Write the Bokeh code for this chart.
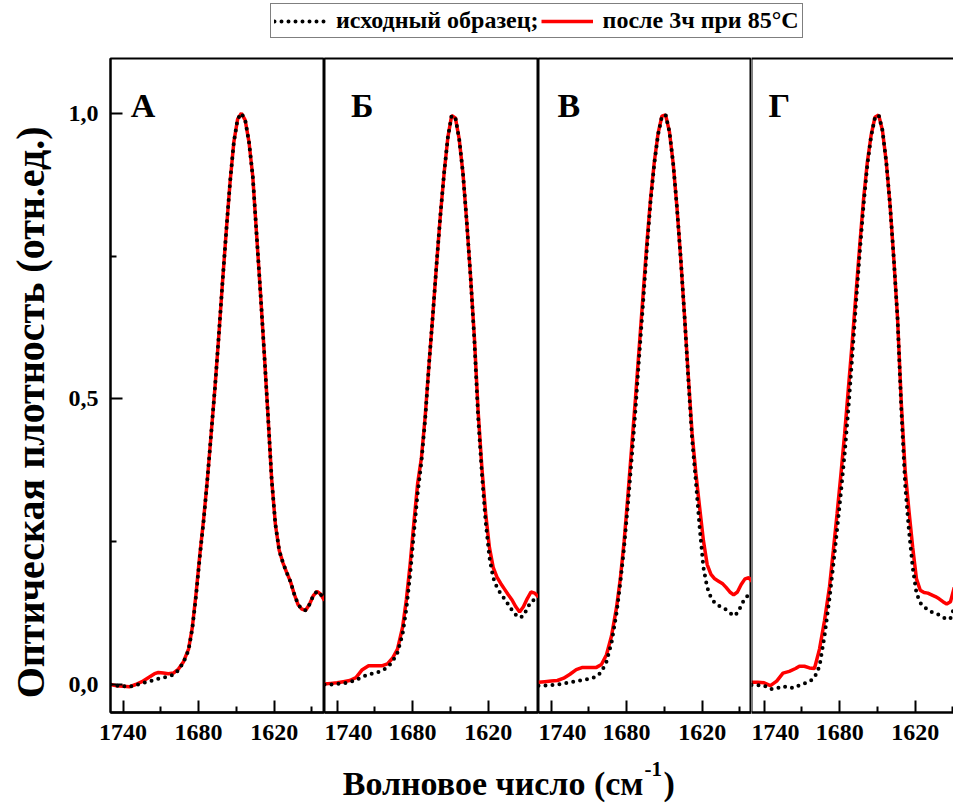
from bokeh.plotting import figure
from bokeh.models import (Range1d, FixedTicker, CustomJSTickFormatter, Label, Legend,
                          LegendItem, Span, LinearAxis)
from bokeh.layouts import row, column
from bokeh.embed import file_html
from bokeh.resources import INLINE

FONT = "Liberation Serif"

# ---------------- data (wavenumber, cm^-1) ----------------
wn = [1750, 1745, 1740, 1735, 1730, 1725, 1720, 1715, 1712, 1708, 1704, 1700, 1696, 1692,
      1688, 1685, 1682, 1679, 1676, 1673, 1670, 1667, 1664, 1661, 1658, 1655, 1652, 1649,
      1646, 1643, 1640, 1637, 1634, 1631, 1628, 1625, 1622, 1619, 1616, 1613, 1610, 1607,
      1604, 1601, 1598, 1595, 1592, 1589, 1586, 1583, 1580]
wn_g = wn[:48]

a_heat = [0.000, -0.002, -0.003, -0.004, 0.000, 0.005, 0.012, 0.019, 0.021, 0.020, 0.019, 0.020,
          0.027, 0.040, 0.062, 0.100, 0.160, 0.228, 0.290, 0.360, 0.440, 0.520, 0.610, 0.705,
          0.795, 0.880, 0.950, 0.990, 1.000, 0.988, 0.950, 0.890, 0.790, 0.690, 0.585, 0.475,
          0.360, 0.280, 0.235, 0.213, 0.196, 0.180, 0.158, 0.140, 0.132, 0.130, 0.140, 0.155,
          0.163, 0.158, 0.147]
a_orig = [0.000, -0.002, -0.003, -0.004, -0.001, 0.002, 0.005, 0.008, 0.010, 0.012, 0.014, 0.017,
          0.025, 0.039, 0.060, 0.098, 0.156, 0.225, 0.287, 0.360, 0.440, 0.520, 0.610, 0.705,
          0.795, 0.880, 0.950, 0.990, 1.000, 0.988, 0.950, 0.890, 0.790, 0.690, 0.585, 0.475,
          0.360, 0.280, 0.235, 0.213, 0.196, 0.180, 0.158, 0.140, 0.132, 0.130, 0.140, 0.155,
          0.163, 0.158, 0.147]

b_heat = [0.001, 0.002, 0.003, 0.005, 0.007, 0.012, 0.026, 0.033, 0.033, 0.033, 0.033, 0.036,
          0.046, 0.062, 0.100, 0.148, 0.210, 0.283, 0.352, 0.397, 0.470, 0.560, 0.645, 0.735,
          0.820, 0.895, 0.958, 0.996, 0.992, 0.955, 0.895, 0.810, 0.715, 0.610, 0.480, 0.380,
          0.300, 0.240, 0.205, 0.188, 0.177, 0.167, 0.157, 0.148, 0.136, 0.127, 0.136, 0.150,
          0.162, 0.160, 0.153]
b_orig = [0.000, 0.000, 0.001, 0.002, 0.004, 0.008, 0.013, 0.018, 0.019, 0.021, 0.025, 0.030,
          0.040, 0.056, 0.088, 0.132, 0.192, 0.265, 0.335, 0.390, 0.465, 0.560, 0.645, 0.735,
          0.820, 0.895, 0.958, 0.996, 0.992, 0.955, 0.895, 0.810, 0.715, 0.605, 0.470, 0.370,
          0.285, 0.223, 0.187, 0.170, 0.159, 0.150, 0.140, 0.130, 0.122, 0.117, 0.120, 0.133,
          0.145, 0.149, 0.150]

c_heat = [0.004, 0.005, 0.006, 0.007, 0.011, 0.018, 0.026, 0.030, 0.030, 0.030, 0.030, 0.035,
          0.052, 0.085, 0.135, 0.185, 0.250, 0.330, 0.415, 0.500, 0.590, 0.680, 0.770, 0.850,
          0.915, 0.965, 0.995, 0.997, 0.968, 0.912, 0.835, 0.745, 0.645, 0.540, 0.440, 0.370,
          0.310, 0.252, 0.210, 0.193, 0.185, 0.181, 0.177, 0.170, 0.162, 0.157, 0.162, 0.175,
          0.185, 0.187, 0.180]
c_orig = [-0.002, -0.002, -0.001, 0.000, 0.002, 0.004, 0.006, 0.008, 0.009, 0.011, 0.014, 0.022,
          0.040, 0.073, 0.125, 0.178, 0.240, 0.315, 0.395, 0.480, 0.575, 0.665, 0.760, 0.845,
          0.912, 0.963, 0.994, 0.997, 0.968, 0.912, 0.835, 0.745, 0.645, 0.535, 0.430, 0.355,
          0.275, 0.205, 0.170, 0.152, 0.143, 0.138, 0.135, 0.131, 0.126, 0.120, 0.125, 0.138,
          0.152, 0.156, 0.150]

g_heat = [0.004, 0.004, 0.003, -0.002, 0.006, 0.020, 0.023, 0.028, 0.032, 0.032, 0.029, 0.028,
          0.062, 0.112, 0.172, 0.235, 0.300, 0.368, 0.440, 0.520, 0.600, 0.685, 0.770, 0.850,
          0.915, 0.962, 0.993, 0.997, 0.970, 0.915, 0.840, 0.745, 0.640, 0.490, 0.375, 0.305,
          0.240, 0.185, 0.165, 0.161, 0.160, 0.157, 0.154, 0.150, 0.145, 0.141, 0.145, 0.170]
g_orig = [-0.001, -0.001, -0.002, -0.008, -0.007, -0.003, -0.006, -0.005, -0.001, 0.002, 0.005,
          0.012, 0.032, 0.085, 0.152, 0.210, 0.272, 0.336, 0.405, 0.485, 0.575, 0.668, 0.757,
          0.840, 0.910, 0.960, 0.992, 0.997, 0.970, 0.915, 0.840, 0.745, 0.640, 0.480, 0.350,
          0.270, 0.205, 0.160, 0.143, 0.136, 0.131, 0.127, 0.124, 0.122, 0.118, 0.114, 0.116,
          0.135]

letters = ["А", "Б", "В", "Г"]
letter_x = [1734, 1729, 1735, 1736.5]
x_major = [1740, 1680, 1620]
x_minor = [1710, 1650, 1590]
y_major = [0.0, 0.5, 1.0]
y_minor = [0.25, 0.75]
legend_labels = ["исходный образец;", "после 3ч при 85°C"]
y_title = "Оптическая плотность (отн.ед.)"
x_title = "Волновое число (см"

RED = "#ff0000"
BOTTOM = 42
ROW_H = 10 + 654 + BOTTOM   # top border + frame + x axis
XF_H = 812 - 48 - ROW_H
Y_TOP = 1.096


def style_axis(ax):
    ax.axis_line_width = 2.5
    ax.axis_line_color = "black"
    ax.major_tick_in = 12
    ax.major_tick_out = 0
    ax.minor_tick_in = 6
    ax.minor_tick_out = 0
    ax.major_tick_line_width = 2
    ax.minor_tick_line_width = 2
    ax.major_tick_line_color = "black"
    ax.minor_tick_line_color = "black"
    ax.major_label_text_font = FONT
    ax.major_label_text_font_style = "bold"
    ax.major_label_text_font_size = "24px"
    ax.major_label_text_color = "black"


def panel(width, xs, y_orig, y_heat, letter, lx, x_end, first=False, last=False):
    p = figure(width=width, height=ROW_H, x_range=Range1d(1750, x_end),
               y_range=Range1d(-0.049, Y_TOP), output_backend="svg", toolbar_location=None,
               min_border_left=(55 if first else 0), min_border_right=0,
               min_border_top=10, min_border_bottom=BOTTOM,
               y_axis_location=("left" if first else None))
    p.xgrid.visible = False
    p.ygrid.visible = False
    p.background_fill_color = "white"
    p.border_fill_color = "white"
    bottom = p.below[0]
    bottom.ticker = FixedTicker(ticks=x_major, minor_ticks=x_minor)
    style_axis(bottom)
    bottom.major_label_standoff = 12
    if last:
        p.outline_line_color = None
        p.add_layout(Span(location=1750, dimension="height", line_color="black", line_width=2))
        top = LinearAxis(ticker=FixedTicker(ticks=[], minor_ticks=[]), axis_line_width=2,
                         axis_line_color="black", major_tick_in=0, major_tick_out=0,
                         minor_tick_in=0, minor_tick_out=0, major_tick_line_color=None,
                         minor_tick_line_color=None, major_label_text_font_size="0px",
                         major_label_standoff=0)
        p.add_layout(top, "above")
    else:
        p.outline_line_color = "black"
        p.outline_line_width = 2
    if first:
        left = p.left[0]
        left.ticker = FixedTicker(ticks=y_major, minor_ticks=y_minor)
        left.formatter = CustomJSTickFormatter(code="return tick.toFixed(1).replace('.', ',');")
        style_axis(left)
        left.axis_line_width = 2
        left.major_label_standoff = 12
    p.line(xs, y_heat, color=RED, line_width=3.5)
    p.line(xs, y_orig, color="black", line_width=4, line_dash="0 7", line_cap="round")
    p.add_layout(Label(x=lx, y=1.014, text=letter, text_font=FONT, text_font_style="bold",
                       text_font_size="34px", text_baseline="middle", text_align="left",
                       text_color="black"))
    return p


pA = panel(269, wn, a_orig, a_heat, letters[0], letter_x[0], 1580, first=True)
pB = panel(214, wn, b_orig, b_heat, letters[1], letter_x[1], 1580)
pC = panel(213, wn, c_orig, c_heat, letters[2], letter_x[2], 1580.8)
pD = panel(202, wn_g, g_orig, g_heat, letters[3], letter_x[3], 1589.6, last=True)


def blank(width, height, xr, yr):
    f = figure(width=width, height=height, x_range=Range1d(0, xr), y_range=Range1d(0, yr),
               output_backend="svg", toolbar_location=None, min_border=0,
               x_axis_location=None, y_axis_location=None)
    f.xgrid.visible = False
    f.ygrid.visible = False
    f.outline_line_color = None
    f.background_fill_color = "white"
    f.border_fill_color = "white"
    return f


# legend strip (legend renderers sit outside the visible range)
lf = blank(953, 48, 953, 48)
r1 = lf.line(x=[-20, -10], y=[-20, -20], color="black", line_width=4, line_dash="0 7",
             line_cap="round")
r2 = lf.line(x=[-20, -10], y=[-20, -20], color=RED, line_width=3.5)
leg = Legend(items=[LegendItem(label=legend_labels[0], renderers=[r1]),
                    LegendItem(label=legend_labels[1], renderers=[r2])],
             orientation="horizontal", location=(270, 10), margin=0, padding=3, spacing=2,
             label_standoff=10, glyph_width=52, glyph_height=24, label_height=24,
             label_text_font=FONT, label_text_font_style="bold", label_text_font_size="24px",
             label_text_color="black", border_line_color="black", border_line_width=1,
             background_fill_alpha=1.0)
lf.add_layout(leg, "center")

# y title strip (label anchored relative to the strip's bottom)
yf = blank(55, ROW_H, 55, ROW_H)
yf.add_layout(Label(x=30, y=330 - (712 - ROW_H), text=y_title, angle=90, angle_units="deg",
                    text_align="center", text_baseline="middle", text_font=FONT,
                    text_font_style="bold", text_font_size="40px", text_color="black"))

# x title strip
xf = blank(953, XF_H, 953, XF_H)
xf.add_layout(Label(x=643, y=29, text=x_title, text_align="right", text_baseline="alphabetic",
                    text_font=FONT, text_font_style="bold", text_font_size="34px",
                    text_color="black"))
xf.add_layout(Label(x=644, y=44, text="-1", text_align="left", text_baseline="alphabetic",
                    text_font=FONT, text_font_style="bold", text_font_size="21px",
                    text_color="black"))
xf.add_layout(Label(x=663, y=29, text=")", text_align="left", text_baseline="alphabetic",
                    text_font=FONT, text_font_style="bold", text_font_size="34px",
                    text_color="black"))

layout = column(lf, row(yf, pA, pB, pC, pD), xf)
open("out.html", "w").write(file_html(layout, INLINE))
